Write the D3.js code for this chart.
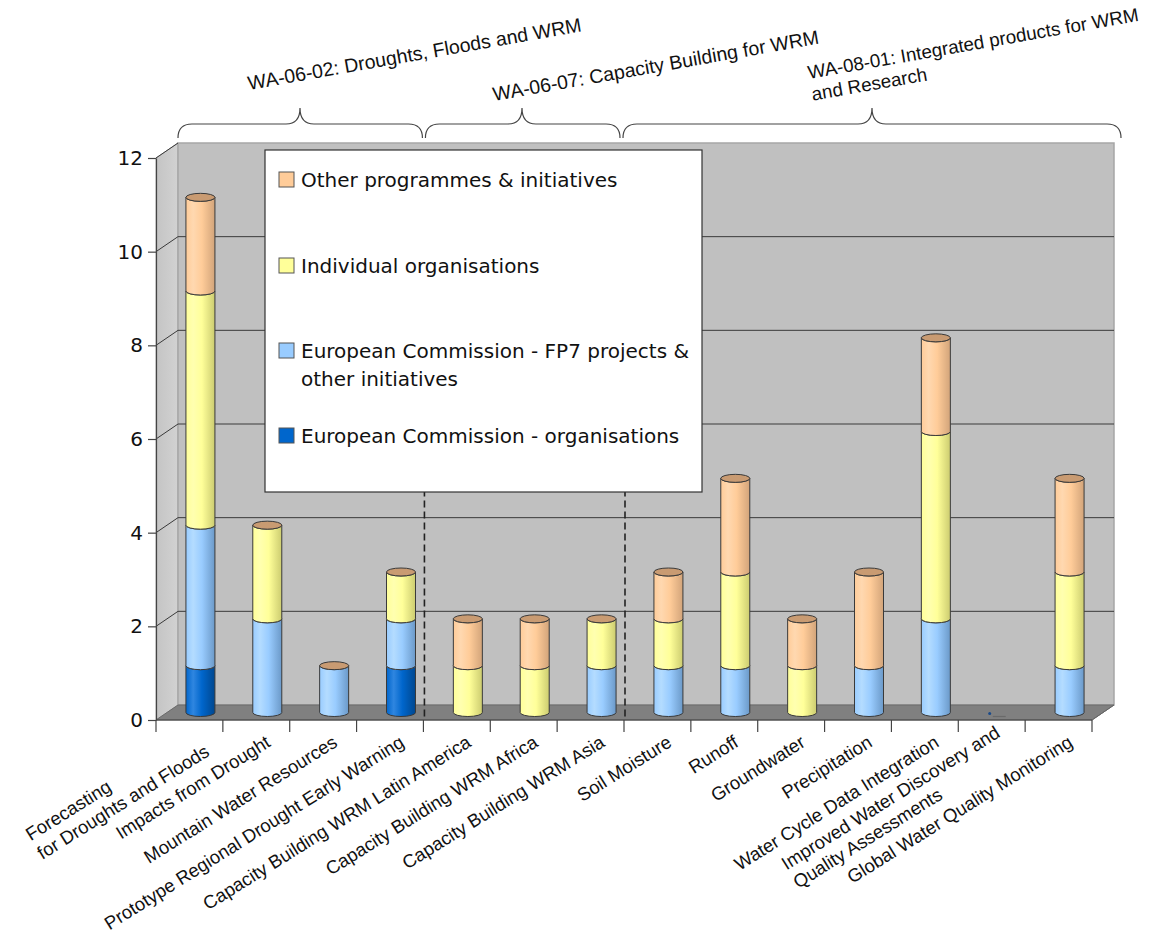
<!DOCTYPE html>
<html><head><meta charset="utf-8">
<script src="https://cdn.jsdelivr.net/npm/d3@7/dist/d3.min.js"></script>
<style>html,body{margin:0;padding:0;background:#fff;}</style>
</head><body>
<svg id="c" width="1153" height="940"></svg>
<script>
// ---------- data ----------
const categories = [
  "Forecasting\nfor Droughts and Floods",
  "Impacts from Drought",
  "Mountain Water Resources",
  "Prototype Regional Drought Early Warning",
  "Capacity Building WRM Latin America",
  "Capacity Building WRM Africa",
  "Capacity Building WRM Asia",
  "Soil Moisture",
  "Runoff",
  "Groundwater",
  "Precipitation",
  "Water Cycle Data Integration",
  "Improved Water Discovery and\nQuality Assessments",
  "Global Water Quality Monitoring"
];
const ecOrganisations = [1,0,0,1,0,0,0,0,0,0,0,0,0,0];
const ecFP7Projects   = [3,2,1,1,0,0,1,1,1,0,1,2,0,1];
const individualOrgs  = [5,2,0,1,1,1,1,1,2,1,0,4,0,2];
const otherProgrammes = [2,0,0,0,1,1,0,1,2,1,2,2,0,2];
const seriesNames = ["European Commission - organisations",
  "European Commission - FP7 projects & other initiatives",
  "Individual organisations",
  "Other programmes & initiatives"];
const yTicks = [0,2,4,6,8,10,12];
const groupNames = ["WA-06-02: Droughts, Floods and WRM",
  "WA-06-07: Capacity Building for WRM",
  "WA-08-01: Integrated products for WRM\nand Research"];
const groupFirst = [0,4,7];
const groupLast  = [3,6,13];

// ---------- styles ----------
const colors = {
  ec:   {light:"#2f86e0", base:"#0066cc", dark:"#00478f"},
  fp7:  {light:"#b4dcff", base:"#99ccff", dark:"#6b99c8"},
  ind:  {light:"#ffffb0", base:"#ffff99", dark:"#cccc70"},
  oth:  {light:"#ffd8b0", base:"#ffcc99", dark:"#d2a47a"}
};
const keys = ["ec","fp7","ind","oth"];
const DX = 22, DY = -15;

const svg = d3.select("#c");
const defs = svg.append("defs");
keys.forEach(k=>{
  const g = defs.append("linearGradient").attr("id","g_"+k).attr("x1","0").attr("x2","1").attr("y1","0").attr("y2","0");
  g.append("stop").attr("offset","0").attr("stop-color",colors[k].base);
  g.append("stop").attr("offset","0.25").attr("stop-color",colors[k].light);
  g.append("stop").attr("offset","0.55").attr("stop-color",colors[k].base);
  g.append("stop").attr("offset","1").attr("stop-color",colors[k].dark);
});
const sw = defs.append("linearGradient").attr("id","sidewall").attr("x1","0").attr("x2","1");
sw.append("stop").attr("offset","0").attr("stop-color","#c4c4c4");
sw.append("stop").attr("offset","1").attr("stop-color","#d2d2d2");

const x = d3.scaleBand().domain(categories).range([156,1092]);
const y = d3.scaleLinear().domain([0,12]).range([720,158]);
const x0 = x.range()[0], x1 = x.range()[1];

// walls
svg.append("polygon")
  .attr("points",[[x0,y(12)],[x0+DX,y(12)+DY],[x0+DX,y(0)+DY],[x0,y(0)]].join(" "))
  .attr("fill","url(#sidewall)").attr("stroke","#a8a8a8").attr("stroke-width",1);
svg.append("rect").attr("x",x0+DX).attr("y",y(12)+DY).attr("width",x1-x0).attr("height",y(0)-y(12))
  .attr("fill","#c0c0c0").attr("stroke","#a6a6a6").attr("stroke-width",1.5);
// floor
svg.append("polygon")
  .attr("points",[[x0,y(0)],[x0+DX,y(0)+DY],[x1+DX,y(0)+DY],[x1,y(0)]].join(" "))
  .attr("fill","#808080").attr("stroke","#6a6a6a").attr("stroke-width",1);

// gridlines
yTicks.filter(v=>v>0 && v<12).forEach(v=>{
  svg.append("line").attr("x1",x0+DX).attr("x2",x1+DX).attr("y1",y(v)+DY).attr("y2",y(v)+DY)
    .attr("stroke","#3a3a3a").attr("stroke-width",1);
});
yTicks.filter(v=>v>0).forEach(v=>{
  svg.append("line").attr("x1",x0).attr("x2",x0+DX).attr("y1",y(v)).attr("y2",y(v)+DY)
    .attr("stroke","#3a3a3a").attr("stroke-width",1);
});

// dashed separators
[groupFirst[1], groupFirst[2]].forEach(i=>{
  const xx = x(categories[i]);
  svg.append("line").attr("x1",xx+1).attr("x2",xx+1).attr("y1",y(11.5)).attr("y2",y(0))
    .attr("stroke","#222").attr("stroke-width",1.6).attr("stroke-dasharray","7,4");
});

// axes
const yAxis = d3.axisLeft(y).tickValues(yTicks).tickSize(8).tickSizeOuter(0).tickPadding(5);
const ya = svg.append("g").attr("transform",`translate(${x0},0)`).call(yAxis);
ya.select(".domain").attr("stroke","#444").attr("stroke-width",1.2);
ya.selectAll(".tick line").attr("stroke","#444").attr("stroke-width",1.2);
ya.selectAll(".tick text").attr("font-family","DejaVu Sans").attr("font-size",20).attr("fill","#111");

svg.append("line").attr("x1",x0).attr("x2",x1).attr("y1",y(0)).attr("y2",y(0)).attr("stroke","#444").attr("stroke-width",1.2);
svg.append("line").attr("x1",x1).attr("x2",x1+DX).attr("y1",y(0)).attr("y2",y(0)+DY).attr("stroke","#666").attr("stroke-width",1);
categories.concat([null]).forEach((c,i)=>{
  const xx = c===null ? x1 : x(c);
  svg.append("line").attr("x1",xx).attr("x2",xx).attr("y1",y(0)).attr("y2",y(0)+12).attr("stroke","#444").attr("stroke-width",1.2);
});

// stacked cylinders
const rows = categories.map((c,i)=>({cat:c, ec:ecOrganisations[i], fp7:ecFP7Projects[i], ind:individualOrgs[i], oth:otherProgrammes[i]}));
const stacked = d3.stack().keys(keys)(rows);
const RX = 14.5, RY = 4;
const barsG = svg.append("g");
rows.forEach((r,i)=>{
  const cx = x(r.cat) + x.bandwidth()/2 + DX/2;
  const yb = v => y(v) + DY/2;
  const g = barsG.append("g");
  let total = 0;
  stacked.forEach(s=>{
    const [lo,hi] = s[i];
    if (hi - lo <= 0) return;
    total = hi;
    const yT = yb(hi), yB = yb(lo);
    const p = `M${cx-RX},${yT} A${RX},${RY} 0 0 0 ${cx+RX},${yT} L${cx+RX},${yB} A${RX},${RY} 0 0 1 ${cx-RX},${yB} Z`;
    g.append("path").attr("d",p).attr("fill",`url(#g_${s.key})`).attr("stroke","#3a3a3a").attr("stroke-width",1);
  });
  if (total > 0) {
    g.append("ellipse").attr("cx",cx).attr("cy",yb(total)).attr("rx",RX).attr("ry",RY)
      .attr("fill","#c99b72").attr("stroke","#3a3a3a").attr("stroke-width",1);
  } else {
    g.append("circle").attr("cx",cx-13).attr("cy",yb(0)+1).attr("r",1.5).attr("fill","#1a4a8a");
    g.append("line").attr("x1",cx-10).attr("x2",cx+3).attr("y1",yb(0)+4).attr("y2",yb(0)+4).attr("stroke","#6a6a6a").attr("stroke-width",1.2);
  }
});

// x labels
categories.forEach(c=>{
  const lines = c.split("\n");
  const cx = x(c) + x.bandwidth()/2 + 12;
  const g = svg.append("g").attr("transform",`translate(${cx},740) rotate(-32)`);
  const ts = lines.map((ln,j)=> g.append("text").text(ln)
      .attr("font-family","Liberation Sans, Arial").attr("font-size",18.5).attr("fill","#111")
      .attr("dy","0.35em").attr("y",(j-(lines.length-1)/2)*22));
  const mw = d3.max(ts, t=>t.node().getComputedTextLength());
  ts.forEach(t=>t.attr("x",-mw));
});

// legend
const lg = svg.append("g");
lg.append("rect").attr("x",265).attr("y",150).attr("width",437).attr("height",342)
  .attr("fill","#fff").attr("stroke","#333").attr("stroke-width",1.2);
const legendItems = [
  {k:"oth", lines:["Other programmes & initiatives"], by:187},
  {k:"ind", lines:["Individual organisations"], by:273},
  {k:"fp7", lines:["European Commission - FP7 projects &","other initiatives"], by:358},
  {k:"ec",  lines:["European Commission - organisations"], by:443}
];
legendItems.forEach(it=>{
  lg.append("rect").attr("x",279).attr("y",it.by-15).attr("width",15).attr("height",15)
    .attr("fill",colors[it.k].base).attr("stroke","#555").attr("stroke-width",1);
  it.lines.forEach((ln,j)=>{
    lg.append("text").attr("x",301).attr("y",it.by + j*28).text(ln)
      .attr("font-family","DejaVu Sans").attr("font-size",20).attr("fill","#111");
  });
});

// group braces
function brace(xa, xb, xm, yb, yf, yt){
  const q = 14;
  return `M${xa},${yb} Q${xa},${yf} ${xa+q},${yf} L${xm-q},${yf} Q${xm},${yf} ${xm},${yt} ` +
         `Q${xm},${yf} ${xm+q},${yf} L${xb-q},${yf} Q${xb},${yf} ${xb},${yb}`;
}
const braceSpans = [
  [x(categories[groupFirst[0]])+DX, x(categories[groupFirst[1]])-1, 300],
  [x(categories[groupFirst[1]])+2, x(categories[groupFirst[2]])-4, 522],
  [x(categories[groupFirst[2]])-1, x1+DX+7, 872]
];
braceSpans.forEach(b=>{
  svg.append("path").attr("d",brace(b[0],b[1],b[2],138,124,108))
    .attr("fill","none").attr("stroke","#444").attr("stroke-width",1.2);
});
const headerPos = [[249,90],[494,101],[809,79]];
const headerSize = [19.5,19.5,18.8];
groupNames.forEach((n,i)=>{
  const g = svg.append("g").attr("transform",`translate(${headerPos[i][0]},${headerPos[i][1]}) rotate(-10)`);
  n.split("\n").forEach((ln,j)=>{
    g.append("text").attr("x",0).attr("y",j*22).text(ln)
      .attr("font-family","Liberation Sans, Arial").attr("font-size",headerSize[i]).attr("fill","#111");
  });
});
</script>
</body></html>
